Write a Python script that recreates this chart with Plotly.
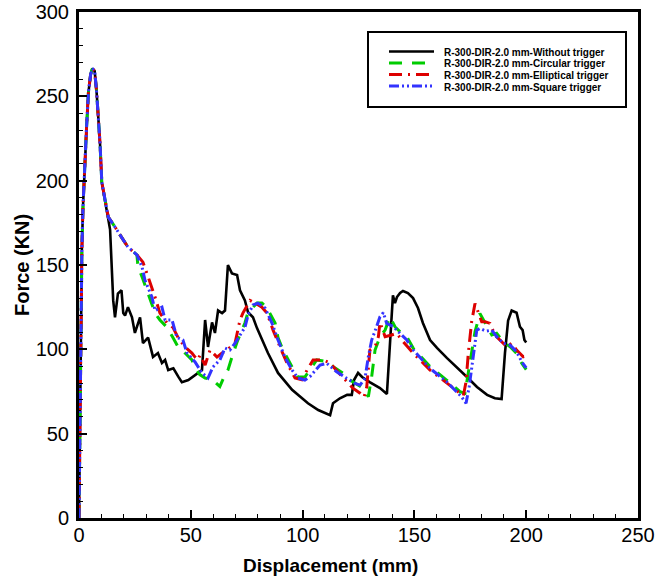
import plotly.graph_objects as go

# ---------------- data ----------------
series_names = [
    "R-300-DIR-2.0 mm-Without trigger",
    "R-300-DIR-2.0 mm-Circular trigger",
    "R-300-DIR-2.0 mm-Elliptical trigger",
    "R-300-DIR-2.0 mm-Square trigger",
]

start_x = [0, 0.3, 0.6, 1.0, 1.3, 1.8, 2.5, 3.4, 4.2, 5.2, 6.0, 7.0, 7.8, 8.6, 9.4, 10.2, 11.6]
start_y = [0, 40, 80, 120, 160, 185, 210, 232, 252, 263, 266.5, 265, 254, 238, 222, 199, 188.5]

without_x = start_x + [12.5, 13.9, 15.3, 16.1, 17.4, 19.0, 19.8, 20.6, 21.9, 23.7, 25.0, 27.3, 28.6, 30.9,
                       33.1, 35.3, 37.1, 38.5, 39.9, 42.2, 44.4, 46.0, 48.9, 51.9, 54.1, 55.0, 56.4, 57.7,
                       59.5, 60.8, 62.2, 64.0, 65.3, 66.6, 68.4, 70.7, 72.0, 74.2, 75.6, 77.8, 79.6, 81.8,
                       84.5, 89.0, 95.3, 102.4, 107.0, 112.3, 113.6, 116.7, 119.9, 122.0, 123.0, 124.8,
                       126.6, 130.0, 134.6, 137.7, 139.0, 140.4, 141.3, 142.2, 143.6, 144.9, 147.1, 149.4,
                       151.6, 153.8, 157.0, 160.1, 164.6, 169.0, 173.5, 178.0, 182.5, 186.0, 189.0, 190.5,
                       191.9, 193.5, 195.7, 197.2, 198.4, 199.2, 200.0]
without_y = start_y + [181, 171, 129, 119, 133, 135, 121.5, 120, 125, 119, 109.7, 119, 103.7, 107,
                       95.5, 97.8, 91.9, 93.7, 87.7, 88.7, 83.8, 80.5, 81.8, 84.8, 86.5, 87.7, 117.4, 101.4,
                       116, 109.7, 123, 121.5, 123, 150, 145, 144, 135, 129, 122, 119, 112.6, 105.5,
                       97.8, 86, 76, 68, 64, 61, 68, 71, 73, 73, 81.8, 86,
                       83.6, 80.6, 77, 73.5, 99.6, 132, 127.4, 131, 133.4, 134.6, 133.4, 130.4,
                       124.5, 115.6, 105.5, 100.8, 94.8, 89.5, 83.6, 77.7, 73, 71, 70.5, 97.8,
                       117, 123, 121.7, 113.4, 111.4, 105.5, 104]

circular_x = start_x + [13.1, 16.1, 19.2, 21.9, 25.9, 26.4, 28.2, 30.9, 34.0, 36.2, 39.4, 42.0, 44.3, 47.4,
                        50.5, 52.0, 54.0, 56.4, 58.6, 60.8, 63.0, 65.0, 66.6, 68.4, 71.0, 74.2, 75.6, 79.6,
                        81.8, 84.1, 87.7, 89.0, 91.2, 95.3, 97.9, 101.0, 104.2, 106.3, 110.8, 113.7, 118.2,
                        121.2, 127.1, 129.4, 130.9, 132.4, 134.6, 136.9, 139.1, 141.3, 143.6, 146.6, 149.5,
                        157.0, 164.4, 170.4, 172.6, 174.9, 177.1, 179.3, 180.8, 181.6, 184.6, 186.8, 189.8,
                        192.8, 195.7, 198.0, 200.0]
circular_y = start_y + [178.4, 172.5, 166, 160.6, 156, 148.8, 143, 133.4, 121.5, 117.4, 113, 107, 101.4, 97.8,
                        93.7, 89, 85, 83, 82.5, 80.6, 78, 84, 87.7, 95.4, 105.5, 115.6, 122, 127.4,
                        127.4, 124.5, 115.6, 107, 99.6, 89.5, 83.6, 83.6, 89.5, 93.7, 92.7, 89.7, 85.8,
                        81.8, 76.9, 71.9, 83.8, 99.6, 107.5, 111.4, 119.3, 113.4, 110.4, 107.5, 100.6,
                        89.7, 81.8, 74.9, 73.9, 91.7, 110.4, 121.3, 117.4, 115.4, 108.5, 109.5, 104.5,
                        101.5, 97.6, 91.7, 88]

elliptical_x = start_x + [13.1, 16.1, 19.2, 21.9, 25.9, 28.6, 30.9, 32.6, 34.0, 36.2, 39.4, 42.0, 44.3, 47.4,
                          50.5, 51.9, 53.2, 54.1, 56.4, 58.6, 61.7, 64.0, 66.2, 69.8, 72.0, 73.3, 76.5, 78.7,
                          81.8, 84.1, 86.8, 89.9, 93.0, 96.6, 99.7, 102.0, 104.7, 109.1, 112.3, 115.8, 119.9,
                          122.5, 125.7, 127.5, 128.7, 129.4, 130.1, 132.4, 133.9, 134.6, 136.9, 139.8, 142.1,
                          145.0, 149.4, 157.0, 164.5, 170.4, 171.9, 173.1, 174.1, 175.6, 177.1, 178.6, 180.1,
                          181.6, 183.8, 186.0, 188.3, 191.3, 193.5, 195.7, 198.7, 200.0]
elliptical_y = start_y + [178.4, 172.5, 166, 160.6, 156, 151.7, 143, 137, 131, 121.5, 115.6, 113, 107, 101.4,
                          97.8, 95.4, 93.7, 96.6, 90.7, 99.6, 95.4, 97.8, 99.6, 103.7, 117.4, 121.5, 129, 127.4,
                          125, 121.5, 111.4, 101.4, 91.9, 83, 82, 87.7, 93.7, 93.7, 91.9, 86.5, 81,
                          77, 74, 71.7, 77.8, 87.7, 99.6, 101.5, 107.5, 116, 107.5, 108.5, 109.5,
                          104.5, 97.8, 87.7, 80, 74, 72.5, 80.8, 97.6, 116.4, 127.2, 121.8, 116.4,
                          116.4, 115.4, 108.5, 105.5, 101.5, 103.6, 99.6, 95.6, 96]

square_x = start_x + [13.1, 16.1, 19.2, 21.9, 25.9, 28.2, 29.5, 32.6, 34.0, 37.1, 38.5, 41.6, 43.8, 46.5,
                      48.3, 51.9, 55.0, 57.7, 59.9, 63.0, 65.3, 67.5, 69.8, 72.9, 74.2, 75.6, 77.8, 80.0,
                      83.2, 86.3, 89.0, 92.1, 95.3, 97.9, 101.0, 103.3, 107.8, 110.8, 115.2, 119.7, 123.4,
                      125.7, 127.9, 129.4, 130.9, 133.1, 134.6, 136.1, 137.6, 140.6, 143.6, 146.6, 149.5,
                      157.0, 164.4, 171.1, 173.1, 174.5, 176.3, 177.9, 179.3, 182.0, 184.6, 186.8, 189.8,
                      192.8, 195.7, 198.0, 200.0]
square_y = start_y + [178.4, 172.5, 166, 160.6, 156, 148.8, 141, 131, 123, 125, 117.4, 117.4, 107, 105.5,
                      97.8, 92.5, 86, 83, 89.5, 93.7, 100.8, 99.6, 103.7, 109.7, 113, 120.3, 126.3, 127.4,
                      124.5, 115.6, 105.5, 95.4, 87.7, 83, 81.8, 83.8, 90.7, 91.7, 86.7, 82.8, 79.8,
                      78.8, 82.8, 95.6, 105.5, 113.4, 119.3, 121.8, 115.4, 113.4, 109.5, 105.5, 99.6,
                      88.7, 80.8, 71.9, 68, 77.8, 95.6, 111.4, 112.4, 110.8, 111.4, 107.5, 103.6,
                      102.5, 98.6, 92.7, 89]

x_ticks = [0, 50, 100, 150, 200, 250]
y_ticks = [0, 50, 100, 150, 200, 250, 300]

# ---------------- styles ----------------
colors = ["#000000", "#00cc00", "#dd0000", "#3333ff"]
dashes = ["solid", "13px,10px", "13px,6px,2px,6px", "10px,3px,2px,3px,2px,3px"]
widths = [2.6, 3, 3, 3]
FONT = "Liberation Sans, Arial"

W, H = 664, 578
# plot area in page pixels
L, R, T, B = 79, 638, 12, 518

fig = go.Figure()
xs = [without_x, circular_x, elliptical_x, square_x]
ys = [without_y, circular_y, elliptical_y, square_y]
for i in range(4):
    fig.add_trace(go.Scatter(x=xs[i], y=ys[i], mode="lines", name=series_names[i],
                             line=dict(color=colors[i], width=widths[i], dash=dashes[i]),
                             showlegend=False))


def px_x(p):
    return (p - L) / (R - L)


def px_y(p):
    return (B - p) / (B - T)


# custom legend box
shapes = [dict(type="rect", xref="paper", yref="paper",
               x0=px_x(368), x1=px_x(626), y0=px_y(107), y1=px_y(32),
               line=dict(color="black", width=2), fillcolor="white", layer="above")]
annotations = []
rows = [51.5, 63, 74.5, 86]
for i in range(4):
    shapes.append(dict(type="line", xref="paper", yref="paper",
                       x0=px_x(389), x1=px_x(434), y0=px_y(rows[i]), y1=px_y(rows[i]),
                       line=dict(color=colors[i], width=widths[i], dash=dashes[i]), layer="above"))
    annotations.append(dict(xref="paper", yref="paper", x=px_x(442), y=px_y(rows[i] + 1),
                            text="<b>" + series_names[i] + "</b>", showarrow=False,
                            xanchor="left", yanchor="middle",
                            font=dict(family=FONT, size=10, color="black")))

# axis titles as annotations (fixed positions)
annotations.append(dict(xref="paper", yref="paper", x=px_x(330), y=px_y(565),
                        text="<b>Displacement (mm)</b>", showarrow=False,
                        xanchor="center", yanchor="middle",
                        font=dict(family=FONT, size=19, color="black")))
annotations.append(dict(xref="paper", yref="paper", x=px_x(22), y=px_y(265),
                        text="<b>Force (KN)</b>", showarrow=False, textangle=-90,
                        xanchor="center", yanchor="middle",
                        font=dict(family=FONT, size=20, color="black")))

axis_common = dict(showgrid=False, zeroline=False, showline=True, linecolor="black", linewidth=3,
                   mirror=True, ticks="inside", ticklen=8, tickwidth=2, tickcolor="black",
                   automargin=False, ticklabeloverflow="allow",
                   tickfont=dict(family=FONT, size=20, color="black"),
                   minor=dict(ticks="inside", ticklen=4, tickwidth=1, tickcolor="black", dtick=10))

fig.update_layout(
    width=W, height=H,
    margin=dict(l=L, r=W - R, t=T, b=H - B),
    paper_bgcolor="white", plot_bgcolor="white",
    shapes=shapes, annotations=annotations,
    xaxis=dict(range=[0, 250], tickvals=x_ticks, ticktext=[str(v) for v in x_ticks],
               ticklabelstandoff=-3, **axis_common),
    yaxis=dict(range=[0, 300], tickvals=y_ticks, ticktext=[str(v) for v in y_ticks],
               ticklabelstandoff=3, **axis_common),
)

# remove the browser's default page margin so the figure fills the window exactly
fig.write_html("out.html", config={"displayModeBar": False},
               post_script="document.body.style.margin='0';")
